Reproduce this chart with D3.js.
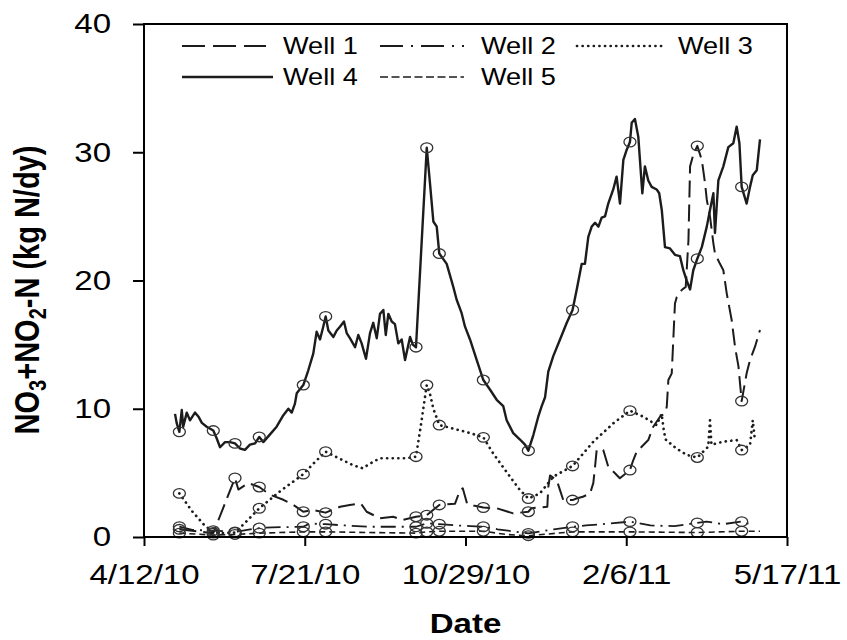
<!DOCTYPE html>
<html>
<head>
<meta charset="utf-8">
<script src="https://cdn.jsdelivr.net/npm/d3@7"></script>
<style>
  body { margin: 0; background: #fff; }
  text { font-family: "Liberation Sans", Arial, sans-serif; }
</style>
</head>
<body>
<div id="chart"></div>
<script>
// x values are days after 4/12/10
const tickDays = [0, 100, 200, 300, 400];
const tickLabels = ['4/12/10', '7/21/10', '10/29/10', '2/6/11', '5/17/11'];
const yTicks = [0, 10, 20, 30, 40];

// sampling dates (circled points)
const sampleDays = [22, 43.1, 56.6, 71.7, 99.1, 113, 169.2, 175.9, 183.7, 211.1, 239.1, 266.6, 302.3, 344.2, 371.8];
const samples1 = [0.6, 0.3, 4.6, 3.9, 1.97, 1.9, 1.58, 1.7, 2.5, 2.3, 1.97, 2.88, 5.22, 30.5, 10.6];
const samples2 = [0.8, 0.5, 0.4, 0.7, 0.8, 1.0, 0.8, 1.07, 1.0, 0.8, 0.28, 0.8, 1.2, 1.1, 1.2];
const samples3 = [3.4, 0.35, 0.35, 2.24, 4.9, 6.65, 6.26, 11.85, 8.73, 7.77, 3.0, 5.54, 9.85, 6.2, 6.78];
const samples4 = [8.2, 8.3, 7.3, 7.8, 11.85, 17.2, 14.8, 30.35, 22.1, 12.24, 6.73, 17.7, 30.8, 21.7, 27.3];
const samples5 = [0.3, 0.15, 0.2, 0.3, 0.4, 0.4, 0.3, 0.4, 0.45, 0.45, 0.1, 0.4, 0.4, 0.35, 0.45];

// [day, kg N/dy]
const well1 = [[22, 0.6], [43.1, 0.3], [56.6, 4.6], [58.7, 3.7], [64.9, 4.2], [71.7, 3.9], [78.4, 3.3],
  [86.7, 2.9], [92.9, 2.5], [99.1, 1.97], [105, 2.1], [113, 1.9], [122, 2.36], [128, 2.5], [135, 2.6],
  [138.5, 1.97], [146.8, 1.46], [155, 1.58], [161, 1.33], [169.2, 1.58], [175.9, 1.7], [183.7, 2.5],
  [193.5, 2.6], [196.6, 3.66], [198.3, 3.8], [201, 2.6], [205, 2.45], [211.1, 2.3], [219.4, 2.24],
  [229.7, 1.84], [239.1, 1.97], [241, 2.24], [250.9, 2.36], [251.5, 3.9], [252.6, 4.8], [256.7, 4.44],
  [258.8, 3.66], [260.8, 2.88], [266.6, 2.88], [269, 3.0], [273, 3.14], [277.5, 3.4], [279.5, 4.2],
  [280.6, 5.48], [281.6, 6.78], [285.7, 6.78], [288.8, 5.48], [293, 4.97], [296, 4.58], [302.3, 5.22],
  [304.4, 6.0], [306.5, 6.65], [309.6, 7.04], [313.7, 7.56], [316.8, 8.6], [321, 9.38], [324.1, 9.65],
  [325.2, 10.16], [326.2, 12.24], [328.3, 12.76], [330.3, 18.2], [331.4, 18.7], [334.5, 19.26],
  [337, 19.5], [338.7, 23.16], [339.7, 28.9], [341.7, 29.8], [344.2, 30.5], [347, 29.4], [349, 27.6],
  [350.1, 26.3], [352.1, 25.0], [354.2, 22.9], [355.2, 22.1], [358.3, 21.3], [360.4, 20.8], [362.5, 19.0],
  [365.6, 16.9], [367.7, 14.8], [369.8, 13.3], [371.8, 10.6], [374.9, 12.76], [377, 13.8], [380.1, 14.84],
  [383.2, 16.14]];

const well2 = [[22, 0.8], [30, 0.55], [43.1, 0.5], [56.6, 0.4], [71.7, 0.7], [80, 0.75], [99.1, 0.8],
  [103, 1.05], [113, 1.0], [125, 0.9], [140, 0.8], [155, 0.8], [169.2, 0.8], [175.9, 1.07], [183.7, 1.0],
  [195, 0.9], [203, 0.85], [211.1, 0.8], [220, 0.6], [239.1, 0.28], [255, 0.6], [266.6, 0.8], [275, 0.9],
  [290, 1.05], [302.3, 1.2], [315, 0.9], [330, 0.85], [344.2, 1.1], [350, 1.2], [360, 1.0], [371.8, 1.2],
  [377, 1.0]];

const well3 = [[22, 3.4], [30, 2.0], [37, 1.0], [43.1, 0.35], [50, 0.3], [56.6, 0.35], [62, 1.0],
  [71.7, 2.24], [85, 3.6], [99.1, 4.9], [106, 5.8], [113, 6.65], [121, 6.15], [130, 5.6], [136, 5.36],
  [143, 5.9], [147, 6.14], [163, 6.14], [169.2, 6.26], [172, 8.5], [175.9, 11.85], [178, 11.1], [180, 10.0],
  [183.7, 8.73], [197, 8.3], [203, 8.1], [211.1, 7.77], [217.3, 6.5], [227.7, 4.7], [233.9, 3.66],
  [239.1, 3.0], [246.3, 3.4], [254.6, 4.7], [266.6, 5.54], [279.5, 7.43], [292, 8.87], [302.3, 9.85],
  [310.6, 9.38], [318.9, 8.73], [322, 9.6], [323.5, 8.2], [324.5, 7.6], [331, 6.92], [337.6, 6.4],
  [344.2, 6.2], [351, 7.04], [352.1, 9.1], [353, 7.2], [360.4, 7.43], [368.7, 7.56], [371.8, 6.78],
  [377, 7.17], [378.7, 9.1], [379.8, 7.82], [381, 8.1]];

const well4 = [[19.3, 9.6], [20.3, 8.9], [22, 8.2], [23.5, 9.9], [24.4, 8.6], [26.6, 9.7], [28.6, 9.1],
  [31.7, 9.7], [33.8, 9.4], [36, 8.9], [39, 8.6], [43.1, 8.3], [45.2, 7.7], [47.3, 7.0], [50.4, 7.4],
  [53.5, 7.4], [56.6, 7.3], [59.7, 6.9], [62.8, 6.8], [65.9, 7.2], [69.1, 7.3], [71.7, 7.8], [74.2, 7.4],
  [78.4, 8.0], [82.5, 8.6], [86.7, 9.5], [89.8, 10.0], [91.9, 9.7], [93.9, 10.4], [95, 11.2], [99.1, 11.85],
  [102.2, 13.0], [105.3, 14.3], [107.4, 16.0], [109.5, 15.4], [111.5, 16.4], [113, 17.2], [114.7, 16.1],
  [117.8, 15.6], [119.9, 16.1], [121.9, 16.4], [124.4, 16.8], [126.1, 15.9], [128.1, 15.5], [131.3, 14.8],
  [133.3, 15.75], [135.4, 15.1], [138.1, 13.9], [140.6, 15.9], [142.6, 16.7], [144.8, 15.5], [146.8, 17.4],
  [148.9, 17.7], [150.4, 15.75], [152, 17.4], [154.1, 16.8], [156.1, 16.6], [158.2, 15.1], [160.3, 15.4],
  [162.4, 13.8], [165.5, 15.6], [167.2, 15.0], [169.2, 14.8], [175.9, 30.35], [177.9, 27.6], [180, 24.6],
  [182.1, 24.2], [183.7, 22.1], [188.3, 21.3], [192.4, 19.5], [194.5, 18.5], [197.6, 17.45], [199.7, 16.4],
  [202.8, 15.4], [207, 13.8], [211.1, 12.24], [215.2, 11.5], [219.4, 10.7], [223.5, 10.2], [225.6, 9.1],
  [229.7, 8.1], [233.9, 7.6], [237, 7.2], [239.1, 6.73], [242.2, 7.95], [245.3, 9.4], [247.4, 10.2],
  [249.5, 10.9], [251.5, 12.9], [254.6, 14.1], [258.8, 15.4], [263, 16.7], [266.6, 17.7], [269.2, 19.3],
  [272.3, 21.3], [274.3, 21.3], [276.4, 23.4], [278.5, 24.2], [280.6, 24.5], [282.7, 24.2], [284.7, 24.9],
  [286.8, 25.0], [288.8, 26.0], [291.9, 27.1], [294, 28.1], [296.1, 26.0], [298.2, 29.4], [300.3, 30.2],
  [302.3, 30.8], [303.4, 32.3], [305.4, 32.6], [307.5, 31.2], [310, 26.8], [311.6, 28.9], [313.7, 27.8],
  [315.8, 27.3], [318.9, 27.1], [320.5, 26.8], [322.1, 25.5], [324.1, 22.6], [327.2, 22.5], [330.3, 22.0],
  [333.4, 21.9], [335.5, 20.8], [337.6, 20.0], [339.7, 19.3], [341.7, 20.8], [344.2, 21.7], [347, 22.6],
  [350.1, 24.2], [352.1, 25.5], [354.2, 26.8], [355.2, 23.7], [357.3, 27.8], [360.4, 28.9], [363.5, 30.4],
  [366.6, 30.7], [368.7, 32.0], [370.4, 30.7], [371.8, 27.3], [374.9, 26.0], [377, 27.3], [378.7, 28.2],
  [381.2, 28.6], [383.2, 31.0]];

const well5 = [[22, 0.3], [43.1, 0.15], [56.6, 0.2], [71.7, 0.3], [99.1, 0.4], [113, 0.4], [140, 0.35],
  [169.2, 0.3], [175.9, 0.4], [183.7, 0.45], [211.1, 0.45], [225, 0.2], [239.1, 0.1], [266.6, 0.4],
  [302.3, 0.4], [344.2, 0.35], [371.8, 0.45], [383.2, 0.45]];

const seriesNames = ['Well 1', 'Well 2', 'Well 3', 'Well 4', 'Well 5'];

const W = 847, H = 640;
const margin = { top: 24, right: 60, bottom: 103, left: 144 };
const width = W - margin.left - margin.right;
const height = H - margin.top - margin.bottom;
const sx = 1.18; // labels look horizontally stretched

const svg = d3.select('#chart').append('svg')
  .attr('width', W).attr('height', H);
svg.append('rect').attr('width', W).attr('height', H).attr('fill', '#fff');

const g = svg.append('g')
  .attr('transform', 'translate(' + margin.left + ',' + margin.top + ')');

const x = d3.scaleLinear().domain([0, 400]).range([0, width]);
const y = d3.scaleLinear().domain([0, 40]).range([height, 0]);

// series styles
const styles = [
  { data: well1, samples: samples1, dash: '17,7', w: 2, cap: 'butt', legendDash: '23,8' },
  { data: well2, samples: samples2, dash: '15,6,2,6', w: 1.8, cap: 'butt', legendDash: '23,8,2,8' },
  { data: well3, samples: samples3, dash: '0.1,5.5', w: 2.7, cap: 'round', legendDash: '0.1,5.5' },
  { data: well4, samples: samples4, dash: null, w: 2.4, cap: 'butt', legendDash: null },
  { data: well5, samples: samples5, dash: '6,4', w: 1.6, cap: 'butt', legendDash: '8,3.5' }
];

const line = d3.line()
  .x(d => x(d[0]))
  .y(d => y(d[1]));

styles.forEach(s => {
  g.append('path')
    .datum(s.data)
    .attr('fill', 'none')
    .attr('stroke', '#1c1c1c')
    .attr('stroke-width', s.w)
    .attr('stroke-linecap', s.cap)
    .attr('stroke-linejoin', 'round')
    .attr('stroke-dasharray', s.dash)
    .attr('d', line);
});

// open circles on sampling dates
styles.forEach(s => {
  g.selectAll(null)
    .data(s.samples)
    .enter().append('ellipse')
    .attr('cx', (d, i) => x(sampleDays[i]))
    .attr('cy', d => y(d))
    .attr('rx', 6)
    .attr('ry', 4.8)
    .attr('fill', 'none')
    .attr('stroke', '#333')
    .attr('stroke-width', 1.3);
});

// frame
g.append('rect')
  .attr('width', width).attr('height', height)
  .attr('fill', 'none').attr('stroke', '#000').attr('stroke-width', 2);

// Y axis
const yAxis = g.append('g')
  .call(d3.axisLeft(y).tickValues(yTicks).tickSize(11).tickPadding(23).tickFormat(d3.format('d')));
yAxis.select('.domain').remove();
yAxis.selectAll('line').attr('stroke-width', 2);
yAxis.selectAll('text')
  .attr('font-size', '28px')
  .attr('fill', '#000')
  .attr('transform', 'scale(' + sx + ',1)')
  .attr('x', -33 / sx);

// X axis
const xAxis = g.append('g')
  .attr('transform', 'translate(0,' + height + ')')
  .call(d3.axisBottom(x).tickValues(tickDays).tickSize(9).tickPadding(18)
    .tickFormat((d, i) => tickLabels[i]));
xAxis.select('.domain').remove();
xAxis.selectAll('line').attr('stroke-width', 2);
xAxis.selectAll('text')
  .attr('font-size', '28px')
  .attr('fill', '#000')
  .attr('transform', 'scale(' + sx + ',1)');

// axis titles
svg.append('text')
  .attr('transform', 'translate(' + (margin.left + width / 2) + ',633) scale(' + sx + ',1)')
  .attr('text-anchor', 'middle')
  .attr('font-size', '28px')
  .attr('font-weight', 'bold')
  .text('Date');

const yt = svg.append('text')
  .attr('transform', 'translate(39,290) scale(' + sx + ',1) rotate(-90)')
  .attr('text-anchor', 'middle')
  .attr('font-size', '29px')
  .attr('font-weight', 'bold');
yt.append('tspan').text('NO');
yt.append('tspan').attr('font-size', '20px').attr('dy', 6).text('3');
yt.append('tspan').attr('dy', -6).text('+NO');
yt.append('tspan').attr('font-size', '20px').attr('dy', 6).text('2');
yt.append('tspan').attr('dy', -6).text('-N (kg N/dy)');

// legend
const legendPos = [[182, 46], [380, 46], [577, 46], [182, 77], [380, 77]];
const legend = svg.append('g');
styles.forEach((s, i) => {
  const p = legendPos[i];
  const len = i === 3 ? 91 : (i === 2 ? 88 : 84);
  legend.append('line')
    .attr('x1', p[0]).attr('x2', p[0] + len)
    .attr('y1', p[1]).attr('y2', p[1])
    .attr('stroke', '#1c1c1c')
    .attr('stroke-width', s.w)
    .attr('stroke-linecap', s.cap)
    .attr('stroke-dasharray', s.legendDash);
  legend.append('text')
    .attr('transform', 'translate(' + (p[0] + 101) + ',' + (p[1] + 8) + ') scale(' + sx + ',1)')
    .attr('font-size', '23px')
    .text(seriesNames[i]);
});
</script>
</body>
</html>
